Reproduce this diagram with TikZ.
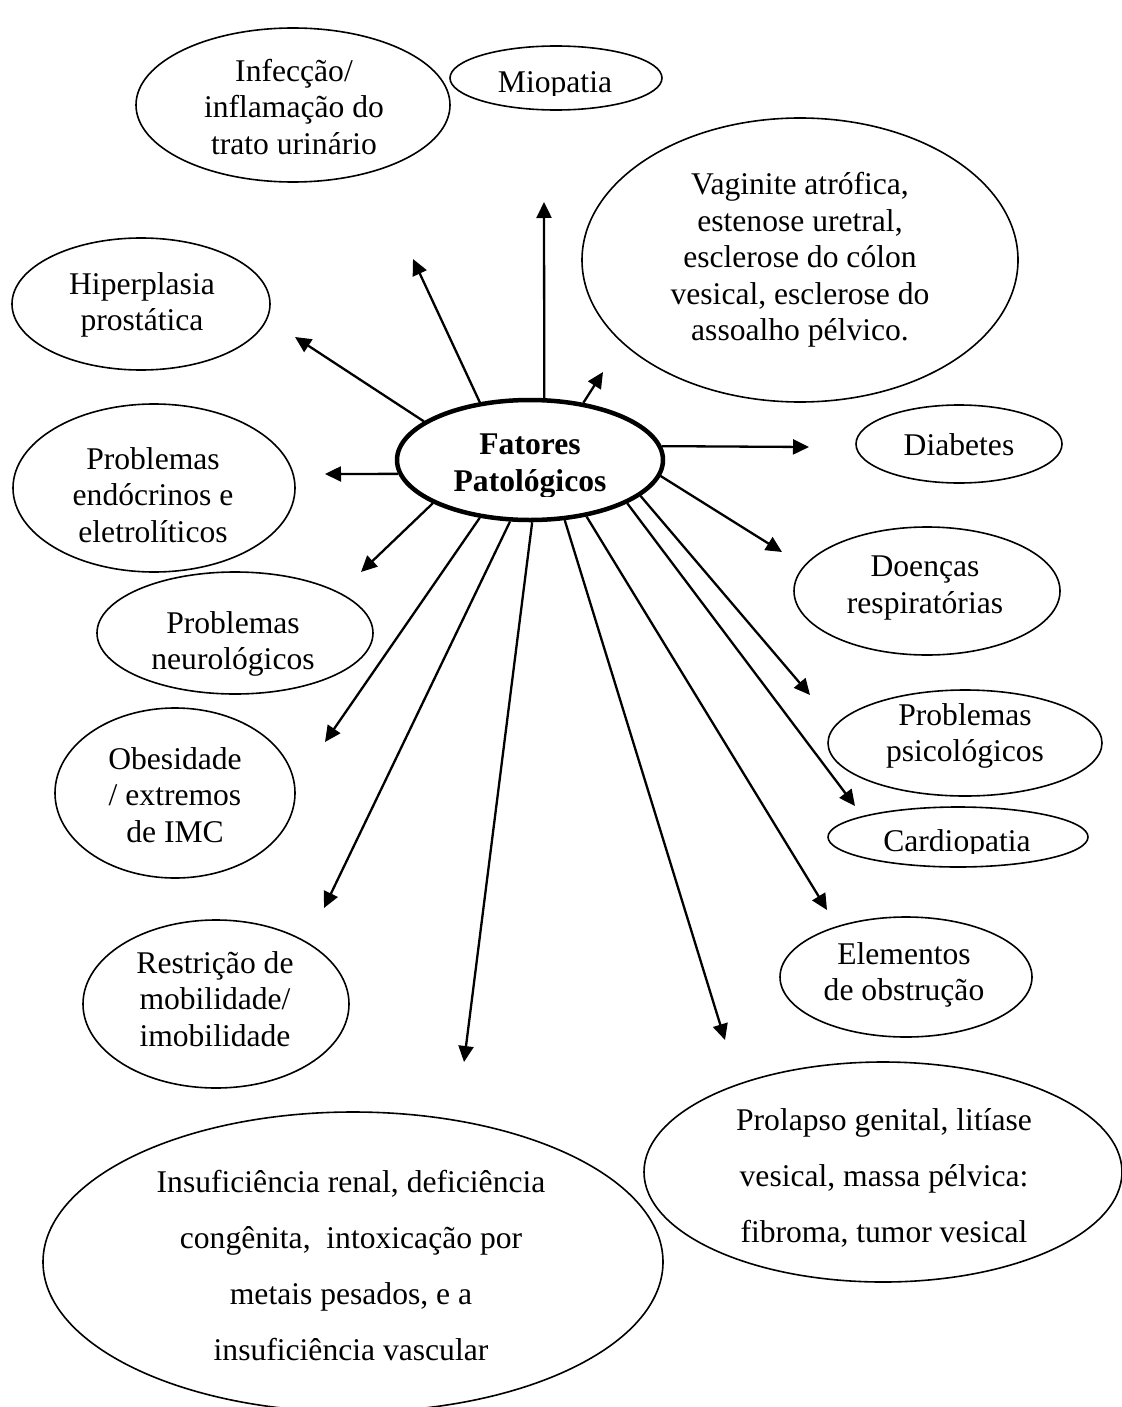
\documentclass[tikz,border=0pt]{standalone}
\usepackage{fontspec}
\setmainfont{Liberation Serif}
\usetikzlibrary{shapes.geometric,arrows.meta}
\tikzset{
  ell/.style={draw, line width=1.6pt, ellipse, fill=white, inner sep=0pt},
  txt/.style={align=center, inner sep=0pt, font=\fontsize{31.6}{36.5}\selectfont},
  wtxt/.style={align=center, inner sep=0pt, font=\fontsize{31.6}{56}\selectfont},
  arr/.style={line width=2.3pt, -{Triangle[length=16pt,width=15pt]}},
}
\begin{document}
\begin{tikzpicture}[x=1pt,y=-1pt]
\useasboundingbox (0,0) rectangle (1121,1407);
% ellipses
\node[ell, minimum width=314, minimum height=154] (inf) at (293,105) {};
\node[txt] (inft) at (294,107) {Infecção/\\inflamação do\\trato urinário};
\node[ell, minimum width=212, minimum height=64] (mio) at (556,78) {};
\begin{scope}
\clip (440,40) rectangle (670,96);
\node[txt] (miot) at (555,85) {Miopatia};
\end{scope}
\node[ell, minimum width=436, minimum height=284] (vag) at (800,260) {};
\node[txt] (vagt) at (800,260) {Vaginite atrófica,\\estenose uretral,\\esclerose do cólon\\vesical, esclerose do\\assoalho pélvico.};
\node[ell, minimum width=258, minimum height=132] (hip) at (141,304) {};
\node[txt] (hipt) at (142,305) {Hiperplasia\\prostática};
\node[ell, minimum width=206, minimum height=78] (dia) at (959,444) {};
\node[txt] (diat) at (959,445) {Diabetes};
\node[ell, minimum width=282, minimum height=168] (end) at (154,488) {};
\node[txt] (endt) at (153,495) {Problemas\\endócrinos e\\eletrolíticos};
\node[ell, minimum width=266, minimum height=128] (doe) at (927,591) {};
\node[txt] (doet) at (925,588) {Doenças\\respiratórias};
\node[ell, minimum width=276, minimum height=122] (neu) at (235,633) {};
\node[txt] (neut) at (233,644) {Problemas\\neurológicos};
\node[ell, minimum width=274, minimum height=106] (psi) at (965,743) {};
\node[txt] (psit) at (965,736) {Problemas\\psicológicos};
\node[ell, minimum width=240, minimum height=170] (obe) at (175,793) {};
\node[txt] (obet) at (175,795) {Obesidade\\/ extremos\\de IMC};
\node[ell, minimum width=260, minimum height=60] (car) at (958,837) {};
\begin{scope}
\clip (820,800) rectangle (1095,853);
\node[txt] (cart) at (957,844) {Cardiopatia};
\end{scope}
\node[ell, minimum width=252, minimum height=120] (ele) at (906,977) {};
\node[txt] (elet) at (904,975) {Elementos\\de obstrução};
\node[ell, minimum width=266, minimum height=168] (res) at (216,1004) {};
\node[txt] (rest) at (215,999) {Restrição de\\mobilidade/\\imobilidade};
\node[ell, minimum width=478, minimum height=220] (pro) at (883,1172) {};
\begin{scope}
\clip (640,1060) rectangle (1121,1246);
\node[wtxt] (prot) at (884,1178) {Prolapso genital, litíase\\vesical, massa pélvica:\\fibroma, tumor vesical};
\end{scope}
\node[ell, minimum width=620, minimum height=300] (ins) at (353,1262) {};
\node[wtxt] (inst) at (351,1266) {Insuficiência renal, deficiência\\congênita,~ intoxicação por\\metais pesados, e a\\insuficiência vascular};
% arrow tips
\coordinate (t1) at (544,202);
\coordinate (t2) at (413,259);
\coordinate (t3) at (295,337);
\coordinate (t4) at (603,372);
\coordinate (t5) at (809,447);
\coordinate (t6) at (325,474);
\coordinate (t7) at (361,572);
\coordinate (t8) at (782,552);
\coordinate (t9) at (810,695);
\coordinate (t10) at (855,806);
\coordinate (t11) at (827,910);
\coordinate (t12) at (725,1040);
\coordinate (t13) at (464,1062);
\coordinate (t14) at (324,908);
\coordinate (t15) at (325,742);
% central node
\node[ell, line width=4.5pt, minimum width=266, minimum height=120] (c) at (530,460) {};
\begin{scope}
\clip (400,400) rectangle (660,496);
\node[txt, font=\fontsize{31.6}{36.5}\selectfont\bfseries] (ct) at (530,466) {Fatores\\Patológicos};
\end{scope}
% arrows
\draw[arr] (c.77) -- (t1);
\draw[arr] (c.131) -- (t2);
\draw[arr] (c.160) -- (t3);
\draw[arr] (c.47) -- (t4);
\draw[arr] (c.6) -- (t5);
\draw[arr] (c.186) -- (t6);
\draw[arr] (c.204) -- (t7);
\draw[arr] (c.353) -- (t8);
\draw[arr] (c.342) -- (t9);
\draw[arr] (c.336) -- (t10);
\draw[arr] (c.315) -- (t11);
\draw[arr] (c.300) -- (t12);
\draw[arr] (c.272) -- (t13);
\draw[arr] (c.252) -- (t14);
\draw[arr] (c.229) -- (t15);
\end{tikzpicture}
\end{document}
